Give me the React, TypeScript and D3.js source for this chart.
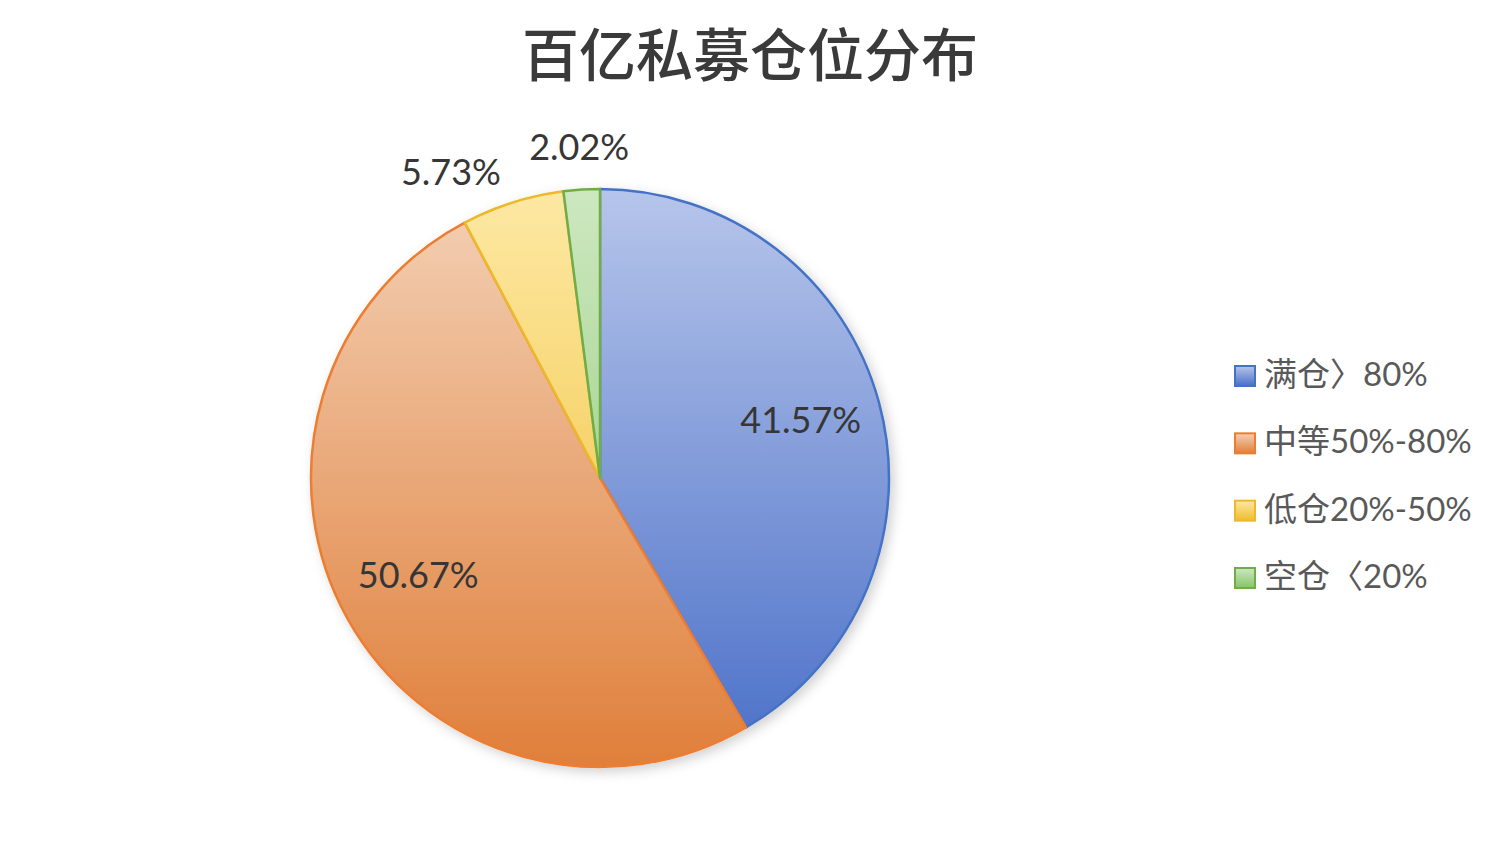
import React, { useEffect, useRef } from 'react'
import * as d3 from 'd3'

const title = '百亿私募仓位分布'
const categories = ['满仓〉80%', '中等50%-80%', '低仓20%-50%', '空仓〈20%']
const values = [41.57, 50.67, 5.73, 2.02]
const strokeColors = ['#4472c4', '#ed7d31', '#ecb92c', '#70ad47']
const topColors = ['#b6c5ea', '#f3d1b6', '#fde8a4', '#cde8c0']
const bottomColors = ['#4a6fc8', '#e07f3a', '#efbd2c', '#86c46a']

const W = 1510
const H = 846

const App = () => {
  const ref = useRef<SVGSVGElement>(null)

  useEffect(() => {
    draw()
  }, [])

  const draw = () => {
    const svg = d3.select(ref.current)
    svg.selectAll('*').remove()

    const cx = 600
    const cy = 478
    const r = 289

    const defs = svg.append('defs')
    const shadow = defs.append('filter').attr('id', 'shadow')
      .attr('x', '-20%').attr('y', '-20%').attr('width', '140%').attr('height', '140%')
    shadow.append('feDropShadow').attr('dx', 4).attr('dy', 4).attr('stdDeviation', 6)
      .attr('flood-color', '#000').attr('flood-opacity', 0.18)

    categories.forEach((c, i) => {
      // pie gradient runs over the whole pie height (local coords, centred on 0)
      const g = defs.append('linearGradient').attr('id', 'grad' + i)
        .attr('gradientUnits', 'userSpaceOnUse')
        .attr('x1', 0).attr('x2', 0).attr('y1', -r).attr('y2', r)
      g.append('stop').attr('offset', '0%').attr('stop-color', topColors[i])
      g.append('stop').attr('offset', '100%').attr('stop-color', bottomColors[i])
      const lg = defs.append('linearGradient').attr('id', 'lgrad' + i)
        .attr('x1', 0).attr('x2', 0).attr('y1', 0).attr('y2', 1)
      lg.append('stop').attr('offset', '0%').attr('stop-color', topColors[i])
      lg.append('stop').attr('offset', '100%').attr('stop-color', bottomColors[i])
    })

    svg.append('text')
      .attr('x', 750).attr('y', 76)
      .attr('text-anchor', 'middle')
      .attr('font-family', '"Noto Sans CJK SC", sans-serif')
      .attr('font-weight', 500)
      .attr('font-size', 57)
      .attr('fill', '#3a3a3a')
      .text(title)

    const pie = d3.pie<number>().sort(null).value((d) => d)
    const arcs = pie(values)
    const arc = d3.arc<d3.PieArcDatum<number>>().innerRadius(0).outerRadius(r)

    const g = svg.append('g').attr('transform', `translate(${cx},${cy})`)
    g.append('g').attr('filter', 'url(#shadow)')
      .selectAll('path')
      .data(arcs)
      .enter()
      .append('path')
      .attr('d', arc)
      .attr('fill', (d, i) => `url(#grad${i})`)
      .attr('stroke', (d, i) => strokeColors[i])
      .attr('stroke-width', 2.5)
      .attr('stroke-linejoin', 'round')

    const inner = d3.arc<d3.PieArcDatum<number>>().innerRadius(208).outerRadius(208)
    const outer = d3.arc<d3.PieArcDatum<number>>().innerRadius(328).outerRadius(328)

    g.selectAll('text.lbl')
      .data(arcs)
      .enter()
      .append('text')
      .attr('class', 'lbl')
      .each(function (d) {
        const small = d.value < 10
        const [x, y] = small ? outer.centroid(d) : inner.centroid(d)
        const mid = (d.startAngle + d.endAngle) / 2
        const s = Math.sin(mid)
        let anchor = 'middle'
        if (small && Math.abs(s) > 0.15) anchor = s < 0 ? 'end' : 'start'
        d3.select(this)
          .attr('x', x).attr('y', anchor === 'middle' ? y - 5 : y + 6)
          .attr('text-anchor', anchor)
          .attr('dominant-baseline', 'central')
      })
      .attr('font-family', 'Lato, "Noto Sans", sans-serif')
      .attr('font-size', 36)
      .attr('fill', '#363636')
      .text((d) => d.value.toFixed(2) + '%')

    const legend = svg.append('g')
    const rowY = d3.scalePoint<string>().domain(categories).range([376, 578])
    categories.forEach((c, i) => {
      const y = rowY(c) || 0
      legend.append('rect')
        .attr('x', 1235).attr('y', y - 10).attr('width', 20).attr('height', 20)
        .attr('fill', `url(#lgrad${i})`)
        .attr('stroke', strokeColors[i]).attr('stroke-width', 2)
      legend.append('text')
        .attr('x', 1264).attr('y', y - 3)
        .attr('dominant-baseline', 'central')
        .attr('font-family', 'Lato, "Noto Sans CJK SC", sans-serif')
        .attr('font-size', 33)
        .attr('fill', '#595959')
        .text(c)
    })
  }

  return (
    <svg ref={ref} width={W} height={H}
      style={{ position: 'absolute', left: 0, top: 0, background: '#fff' }} />
  )
}

export default App
